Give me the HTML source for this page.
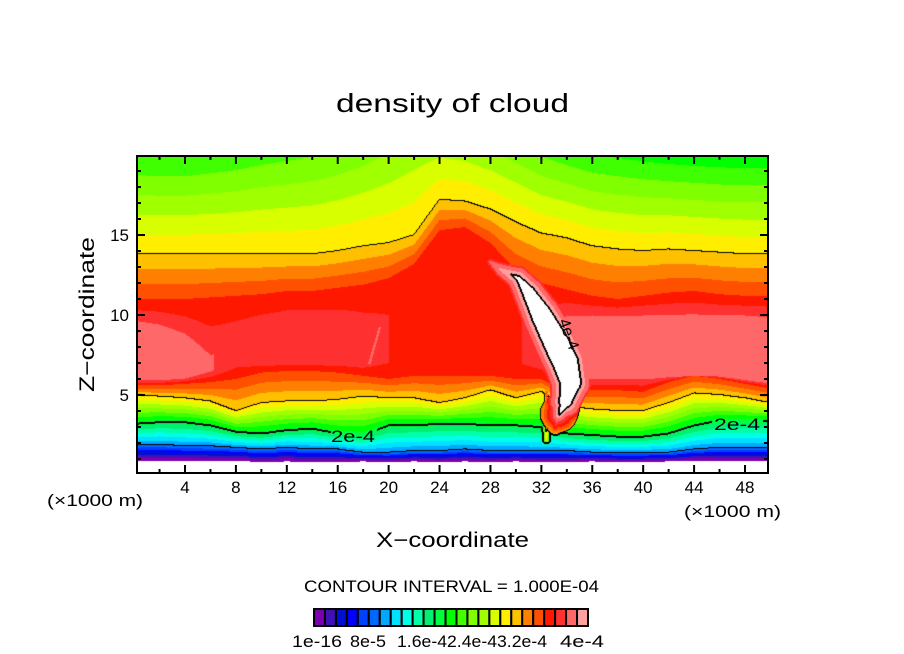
<!DOCTYPE html>
<html><head><meta charset="utf-8"><style>
html,body{margin:0;padding:0;background:#fff;}
#wrap{position:relative;width:904px;height:654px;overflow:hidden;font-family:"Liberation Sans",sans-serif;}
#field{position:absolute;left:137px;top:156px;}
svg{position:absolute;left:0;top:0;}
</style></head><body>
<div id="wrap">
<canvas id="field" width="631" height="317"></canvas>
<svg id="ov" width="904" height="654">
  <text x="336" y="112" font-size="26" textLength="233" lengthAdjust="spacingAndGlyphs">density of cloud</text>
  <rect x="137" y="156" width="631" height="317" fill="none" stroke="#000" stroke-width="2"/>
  <g id="ticks"></g>
  <g id="xlabels"></g>
  <g id="ylabels"></g>
  <text x="47" y="506" font-size="17" textLength="96" lengthAdjust="spacingAndGlyphs">(×1000 m)</text>
  <text x="684" y="517" font-size="17" textLength="97" lengthAdjust="spacingAndGlyphs">(×1000 m)</text>
  <text x="376" y="547" font-size="21" textLength="153" lengthAdjust="spacingAndGlyphs">X−coordinate</text>
  <text transform="translate(94,392) rotate(-90)" font-size="21" textLength="155" lengthAdjust="spacingAndGlyphs">Z−coordinate</text>
  <text x="331" y="442" font-size="17" textLength="44" lengthAdjust="spacingAndGlyphs">2e-4</text>
  <text x="714" y="430" font-size="17" textLength="46" lengthAdjust="spacingAndGlyphs">2e-4</text>
  <text transform="translate(564,336) rotate(70)" font-size="16" text-anchor="middle">4e-4</text>
  <text x="304" y="592" font-size="17" textLength="295" lengthAdjust="spacingAndGlyphs">CONTOUR INTERVAL = 1.000E-04</text>
  <g id="cbar"></g>
  <g id="cblabels"></g>
</svg>
</div>
<script>
// ---- data (level units; 1e-4 ≈ 7, 2e-4 ≈ 12.5, 3e-4 ≈ 19, 4e-4 ≈ 26) ----
const colX = [0,2,4,6,8,10,12,14,16,18,20,22,24,26,28,30,32,34,36,38,40,42,44,46,48,50];
const zBot = [0.9,0.85,0.9,0.85,0.9,0.8,0.85,0.8,0.8,0.85,0.8,0.85,0.8,0.85,0.8,0.85,0.8,0.8,0.85,0.8,0.8,0.85,0.9,0.85,0.9,0.9];
const h1 = [1.9,1.9,1.8,1.8,1.7,1.6,1.7,1.6,1.6,1.4,1.4,1.5,1.5,1.6,1.5,1.5,1.5,1.5,1.4,1.4,1.4,1.4,1.6,1.7,1.7,1.7];
const h2 = [3.2,3.3,3.3,3.1,2.7,2.6,2.8,2.9,2.6,2.5,3.1,3.1,3.2,3.2,3.1,3.1,3.0,2.6,2.5,2.4,2.4,2.6,3.1,3.4,3.4,3.4];
const h3 = [5.0,4.9,4.8,4.6,4.0,4.5,4.6,4.6,4.7,4.9,4.8,4.8,4.5,4.8,5.3,4.8,5.2,4.3,4.1,4.0,4.0,4.5,5.1,5.0,4.8,4.5];
const hRL = [5.6,5.6,5.7,5.8,6.0,6.4,6.5,6.5,6.4,6.2,6.0,6.2,6.2,6.2,6.2,6.0,6.0,5.2,5.3,5.3,5.2,5.8,6.2,6.0,5.7,5.4];
const zc1 = [6.0,6.0,6.1,6.5,7.0,7.0,7.0,7.0,7.0,6.8,7.0,7.0,7.0,7.0,7.0,7.0,6.8,6.0,6.2,6.2,6.2,6.2,6.2,6.2,6.0,5.8];
const zc2 = [9.3,9.0,8.4,7.3,9.0,9.5,9.8,9.8,9.8,9.8,10.0,10.8,11.5,11.5,11.0,10.0,9.5,9.5,9.6,9.6,9.6,9.6,9.6,9.6,9.6,9.5];
const coreLev = [24.5,24.5,24.4,24.1,23.4,23.4,23.4,23.4,23.4,23.2,23.0,22.8,22.8,22.8,22.8,22.9,23.3,24.5,24.6,24.6,24.6,24.6,24.6,24.6,24.6,24.5];
const hRH = [11.0,11.0,11.0,11.1,11.2,11.3,11.5,11.5,11.7,11.9,12.3,13.2,15.3,15.5,14.5,12.8,12.0,11.6,11.2,11.0,11.2,11.4,11.5,11.3,11.2,11.2];
const hTop = [13.8,13.8,13.8,13.8,13.8,13.8,13.8,13.8,14.0,14.3,14.5,15.0,17.2,17.1,16.6,15.8,15.1,14.8,14.3,14.1,14.0,14.1,14.0,13.9,13.8,13.8];
const topLev = [13.6,13.5,13.5,13.7,13.9,14.2,14.4,14.6,14.9,15.3,15.8,16.3,16.5,16.3,15.8,15.2,14.5,14.0,13.6,13.4,13.2,13.0,12.9,12.8,12.8,12.8];
// ridge features (white streak, narrow spike, small pink streak)
const ridgeX = [28.0,28.9,30.2,31.0,32.0,33.2,33.9,34.3,33.9,33.4,33.1, 32.4,32.4, 18.5,19.3];
const ridgeZ = [13.3,12.8,12.3,11.4,10.0,8.2,7.0,5.8,4.6,3.8,3.0, 5.2,2.2, 7.0,9.2];
const ridgePeak = [24.3,25.4,26.6,27.6,28.6,29.2,29.2,28.6,27.6,26.2,23.0, 22.0,18.5, 24.4,24.4];
const ridgeRate = [4,4,4,4,4,4,4,4,4,3,2, 0.6,0.6, 3,3];
const ridgeFloor = [23.5,23.5,23.5,23.5,23.5,23.5,23.5,23.5,23.5,20,19, 0,0, 24,24];
const ridgeGroup = [0,0,0,0,0,0,0,0,0,0,0, 1,1, 2,2];
const contourLevels = [7, 12.5, 19, 26];
const contourThick = [false, true, false, true];
const xTickVals = [4,8,12,16,20,24,28,32,36,40,44,48];
const yTickVals = [5,10,15];
const boxColors = ['#7a00b0','#4010b8','#0010d0','#0000ff','#0040ff','#0068ff','#00a8ff','#00e0ff','#00ffe8','#00ffa8','#00f070','#00ff40','#00ff00','#40ff00','#80ff00','#a0ff00','#d8ff00','#ffee00','#ffc000','#ff8000','#ff5000','#ff1800','#ff3030','#ff6868','#ffa0a0'];
const cbLabels = ['1e-16','8e-5','1.6e-4','2.4e-4','3.2e-4','4e-4'];
const cbLabelLeft = [292,350,397,447,497,560];
const cbLabelWidth = [50,36,50,50,50,44];

// ---- axes ----
const X0 = 134.1, XS = 12.727, Z0 = 475, ZS = 16;
const px = x => X0 + XS * x;
const py = z => Z0 - ZS * z;
const NS = 'http://www.w3.org/2000/svg';
function mk(tag, attrs, parent, txt) {
  const e = document.createElementNS(NS, tag);
  for (const k in attrs) e.setAttribute(k, attrs[k]);
  if (txt !== undefined) e.textContent = txt;
  parent.appendChild(e); return e;
}
const tk = document.getElementById('ticks');
for (let x = 2; x <= 48; x += 2) {
  const major = x % 4 === 0, L = major ? 8 : 4, X = px(x);
  const t1 = mk('line', {x1: X, x2: X, y1: 473, y2: 473 - L, stroke: '#000', 'stroke-width': 2}, tk);
  
  
  const t2 = mk('line', {x1: X, x2: X, y1: 156, y2: 156 + L, stroke: '#000', 'stroke-width': 2}, tk);
  
  
}
for (let z = 1; z <= 19; z++) {
  const major = z % 5 === 0, L = major ? 8 : 4, Y = py(z);
  const t1 = mk('line', {x1: 137, x2: 137 + L, y1: Y, y2: Y, stroke: '#000', 'stroke-width': 2}, tk);
  
  
  const t2 = mk('line', {x1: 768, x2: 768 - L, y1: Y, y2: Y, stroke: '#000', 'stroke-width': 2}, tk);
  
  
}
const xl = document.getElementById('xlabels');
xTickVals.forEach(v => {
  const t = mk('text', {x: px(v), y: 493, 'font-size': 17, 'text-anchor': 'middle'}, xl, String(v));
  
  
});
const yl = document.getElementById('ylabels');
yTickVals.forEach(v => {
  const t = mk('text', {x: 129, y: py(v) + 6, 'font-size': 17, 'text-anchor': 'end'}, yl, String(v));
  
  
});
const cb = document.getElementById('cbar');
const cbX = 314, cbW = 274 / 25;
boxColors.forEach((c, i) => {
  const r = mk('rect', {x: cbX + i * cbW, y: 609, width: cbW, height: 17, fill: c, stroke: '#000', 'stroke-width': 2}, cb);
  
  
});
const cbl = document.getElementById('cblabels');
cbLabels.forEach((s, i) => {
  const t = mk('text', {x: cbLabelLeft[i], y: 647, 'font-size': 17, textLength: cbLabelWidth[i], lengthAdjust: 'spacingAndGlyphs'}, cbl, s);
  
  
});

// ---- field ----
function colInterp(arr, x) {
  if (x <= colX[0]) return arr[0];
  for (let i = 0; i < colX.length - 1; i++) {
    if (x <= colX[i + 1]) { const t = (x - colX[i]) / (colX[i + 1] - colX[i]); return arr[i] + t * (arr[i + 1] - arr[i]); }
  }
  return arr[arr.length - 1];
}
function hexRGB(h) { return [parseInt(h.substr(1,2),16), parseInt(h.substr(3,2),16), parseInt(h.substr(5,2),16)]; }
const rgb = boxColors.map(hexRGB);
const cv = document.getElementById('field');
const W = cv.width, H = cv.height;
const ctx = cv.getContext('2d');
const V = new Float32Array(W * H);
const segs = [];
for (let i = 0; i < ridgeX.length - 1; i++) {
  if (ridgeGroup[i] !== ridgeGroup[i + 1]) continue;
  segs.push([px(ridgeX[i]), py(ridgeZ[i]), px(ridgeX[i+1]), py(ridgeZ[i+1]), ridgePeak[i], ridgePeak[i+1], ridgeRate[i], ridgeRate[i+1], ridgeFloor[i], ridgeFloor[i+1]]);
}
for (let i = 0; i < W; i++) {
  const X = 137 + i + 0.5, x = (X - X0) / XS;
  const zs = [colInterp(zBot,x), colInterp(h1,x), colInterp(h2,x), colInterp(h3,x), colInterp(hRL,x), colInterp(zc1,x), colInterp(zc2,x), colInterp(hRH,x), colInterp(hTop,x), 20.5];
  const cl = colInterp(coreLev, x);
  const vs = [0.5, 7, 12.5, 19, 22, cl, cl, 22, 19, colInterp(topLev, x)];
  for (let k = 1; k < zs.length; k++) if (zs[k] < zs[k-1] + 0.01) zs[k] = zs[k-1] + 0.01;
  for (let j = 0; j < H; j++) {
    const Y = 156 + j + 0.5, z = (Z0 - Y) / ZS;
    let v;
    if (z < zs[0]) v = -1;
    else {
      v = vs[vs.length - 1];
      for (let k = 0; k < zs.length - 1; k++) {
        if (z <= zs[k+1]) { const t = (z - zs[k]) / (zs[k+1] - zs[k]); v = vs[k] + t * (vs[k+1] - vs[k]); break; }
      }
      for (const s of segs) {
        const dx = s[2] - s[0], dy = s[3] - s[1];
        let t = ((X - s[0]) * dx + (Y - s[1]) * dy) / (dx*dx + dy*dy);
        t = Math.max(0, Math.min(1, t));
        const qx = s[0] + t*dx - X, qy = s[1] + t*dy - Y;
        const d = Math.sqrt(qx*qx + qy*qy);
        const pk = s[4] + t * (s[5] - s[4]), rt = s[6] + t * (s[7] - s[6]), fl = s[8] + t * (s[9] - s[8]);
        const rv = pk - d / rt;
        if (rv > v && rv >= fl) v = rv;
      }
    }
    V[j * W + i] = v;
  }
}
const img = ctx.createImageData(W, H);
const D = img.data;
for (let p = 0; p < W * H; p++) {
  const v = V[p]; let c;
  if (v < 0 || v >= 26) c = [255,255,255];
  else { let k = Math.floor(v) - 1; if (k < 0) k = 0; if (k > 24) k = 24; c = rgb[k]; }
  D[p*4] = c[0]; D[p*4+1] = c[1]; D[p*4+2] = c[2]; D[p*4+3] = 255;
}
const gaps = [[331-137, 426-156, 376-137, 446-156], [712-137, 414-156, 762-137, 434-156]];
function inGap(i, j) { return gaps.some(g => i >= g[0] && i <= g[2] && j >= g[1] && j <= g[3]); }
function blk(i, j) { if (i < 0 || j < 0 || i >= W || j >= H || inGap(i, j)) return; const p = (j*W+i)*4; D[p]=0; D[p+1]=0; D[p+2]=0; }
for (let j = 0; j < H; j++) for (let i = 0; i < W; i++) {
  const v = V[j*W+i]; if (v < 0) continue;
  const nb = [[i+1, j], [i, j+1]];
  for (const [a, b] of nb) {
    if (a >= W || b >= H) continue;
    const u = V[b*W+a]; if (u < 0) continue;
    contourLevels.forEach((T, ci) => {
      if ((v >= T) !== (u >= T)) { blk(i, j); if (contourThick[ci]) blk(a, b); }
    });
  }
}
ctx.putImageData(img, 0, 0);
</script>
</body></html>
